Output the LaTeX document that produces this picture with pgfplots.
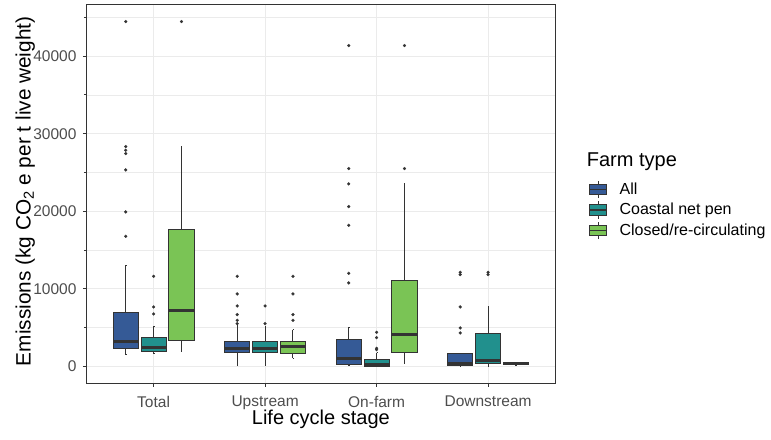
\documentclass[border=0pt]{standalone}
\usepackage{pgfplots}
\pgfplotsset{compat=1.18}
\usepgfplotslibrary{statistics}
\usepackage{fontspec}
\setmainfont{Liberation Sans}
\definecolor{allc}{HTML}{355A96}
\definecolor{coac}{HTML}{21908D}
\definecolor{cloc}{HTML}{7AC455}
\definecolor{edge}{HTML}{333333}
\definecolor{gridc}{HTML}{EBEBEB}
\definecolor{tlab}{HTML}{4D4D4D}
\pgfplotsset{
  bx/.style={boxplot prepared={#1}, draw=edge, line width=1bp, mark=*, mark size=1.5bp,
    mark options={fill=edge, draw=edge, line width=0.2bp}, forget plot},
  boxleg/.style={legend image code/.code={
    \draw[draw=edge,line width=1bp] (8.85bp,-8.6bp) -- (8.85bp,8.6bp);
    \draw[fill=#1,draw=edge,line width=1bp] (0bp,-5.3bp) rectangle (17.7bp,5.3bp);
    \draw[draw=edge,line width=1.8bp] (0bp,0bp) -- (17.7bp,0bp);}},
}
\begin{document}
\begin{tikzpicture}
% values in thousands of kg CO2e per t live weight
\begin{axis}[name=ax,
  width=468.3bp, height=378bp, scale only axis,
  clip mode=individual,
  xmin=0.4, xmax=4.6, ymin=-2.15, ymax=46.6,
  xtick={1,2,3,4}, xticklabels={Total,Upstream,On-farm,Downstream},
  ytick={0,10,20,30,40}, yticklabels={0,10000,20000,30000,40000},
  minor ytick={5,15,25,35,45},
  xmajorgrids, ymajorgrids, yminorgrids,
  major grid style={draw=gridc, line width=1bp},
  minor grid style={draw=gridc, line width=0.5bp},
  axis line style={draw=edge, line width=1bp},
  tick align=outside, major tick length=3.7bp,
  tick style={draw=edge, line width=1bp},
  xtick pos=bottom, ytick pos=left,
  ticklabel style={font=\fontsize{15.5bp}{18bp}\selectfont, text=tlab},
  xticklabel style={yshift=-6bp},
  yticklabel style={xshift=-3bp},
  boxplot/draw direction=y,
  boxplot/box extend=0.225,
  boxplot/whisker extend=0.001,
  boxplot/every median/.style={line width=2.4bp, draw=edge},
  xlabel={Life cycle stage},
  ylabel={Emissions (kg CO\textsubscript{2} e per t live weight)},
  xlabel style={font=\fontsize{20bp}{24bp}\selectfont, at={(axis description cs:0.5,-0.111)}, anchor=base},
  ylabel style={font=\fontsize{20.8bp}{24bp}\selectfont, at={(axis description cs:-0.1196,0.507)}, anchor=base},
  legend style={at={(axis description cs:1.0645,0.542)}, anchor=north west, draw=none, fill=none,
    font=\fontsize{16bp}{19bp}\selectfont, row sep=2.3bp, column sep=11.7bp,
    nodes={inner sep=0pt}},
  legend cell align=left,
]
% Total
\addplot[bx={draw position=0.75, lower whisker=1.470, lower quartile=2.245, median=3.225, upper quartile=6.927, upper whisker=13.030}, fill=allc]
  coordinates {(0,44.466) (0,28.341) (0,27.870) (0,27.438) (0,25.335) (0,19.918) (0,16.770)};
\addplot[bx={draw position=1, lower whisker=1.600, lower quartile=1.935, median=2.451, upper quartile=3.664, upper whisker=5.160}, fill=coac]
  coordinates {(0,11.610) (0,7.663) (0,6.760)};
\addplot[bx={draw position=1.25, lower whisker=1.935, lower quartile=3.315, median=7.185, upper quartile=17.596, upper whisker=28.341}, fill=cloc]
  coordinates {(0,44.466)};
% Upstream
\addplot[bx={draw position=1.75, lower whisker=0.090, lower quartile=1.729, median=2.322, upper quartile=3.225, upper whisker=5.379}, fill=allc]
  coordinates {(0,11.610) (0,9.340) (0,7.790) (0,6.670) (0,5.934) (0,5.508)};
\addplot[bx={draw position=2, lower whisker=0.090, lower quartile=1.729, median=2.322, upper quartile=3.225, upper whisker=5.200}, fill=coac]
  coordinates {(0,7.790) (0,5.508)};
\addplot[bx={draw position=2.25, lower whisker=1.032, lower quartile=1.638, median=2.580, upper quartile=3.225, upper whisker=4.734}, fill=cloc]
  coordinates {(0,11.610) (0,9.340) (0,6.670) (0,5.934)};
% On-farm
\addplot[bx={draw position=2.75, lower whisker=0.090, lower quartile=0.180, median=0.993, upper quartile=3.444, upper whisker=5.031}, fill=allc]
  coordinates {(0,41.370) (0,25.503) (0,23.530) (0,20.601) (0,18.189) (0,11.997) (0,10.759)};
\addplot[bx={draw position=3, lower whisker=0, lower quartile=0.030, median=0.219, upper quartile=0.864, upper whisker=1.729}, fill=coac]
  coordinates {(0,4.386) (0,3.702) (0,2.322) (0,2.154)};
\addplot[bx={draw position=3.25, lower whisker=0.310, lower quartile=1.729, median=4.089, upper quartile=11.055, upper whisker=23.530}, fill=cloc]
  coordinates {(0,41.370) (0,25.503)};
% Downstream
\addplot[bx={draw position=3.75, lower whisker=0, lower quartile=0.130, median=0.387, upper quartile=1.600, upper whisker=1.700}, fill=allc]
  coordinates {(0,12.126) (0,11.830) (0,7.663) (0,4.953) (0,4.309)};
\addplot[bx={draw position=4, lower whisker=0, lower quartile=0.310, median=0.774, upper quartile=4.257, upper whisker=7.740}, fill=coac]
  coordinates {(0,12.126) (0,11.830)};
\addplot[bx={draw position=4.25, lower whisker=0.150, lower quartile=0.180, median=0.350, upper quartile=0.516, upper whisker=0.540}, fill=cloc]
  coordinates {};
% legend
\addlegendimage{boxleg=allc}
\addlegendentry{All}
\addlegendimage{boxleg=coac}
\addlegendentry{Coastal net pen}
\addlegendimage{boxleg=cloc}
\addlegendentry{Closed/re-circulating}
\node[font=\fontsize{20bp}{24bp}\selectfont, anchor=base west, inner sep=0pt] at (axis description cs:1.0677,0.574) {Farm type};
\end{axis}
\pgfresetboundingbox
\path ([shift={(-86.7bp,-57bp)}]ax.south west) rectangle ([shift={(216bp,5bp)}]ax.north east);
\end{tikzpicture}
\end{document}
